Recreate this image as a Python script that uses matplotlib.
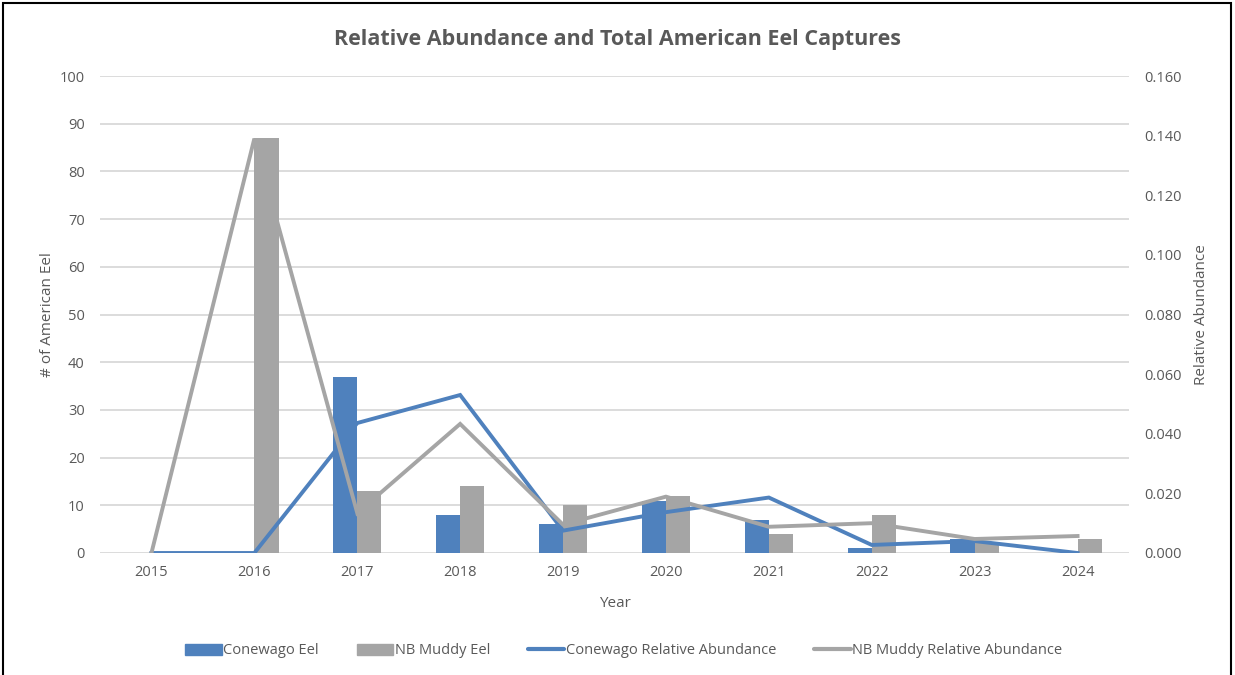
import numpy as np
import matplotlib
matplotlib.use("Agg")
import matplotlib.pyplot as plt
from matplotlib.patches import Patch, Rectangle
from matplotlib.lines import Line2D

plt.rcParams["font.family"] = ["Open Sans", "DejaVu Sans"]

years = ["2015", "2016", "2017", "2018", "2019", "2020", "2021", "2022", "2023", "2024"]
conewago_eel = [0, 0, 37, 8, 6, 11, 7, 1, 3, 0]
nb_muddy_eel = [0, 87, 13, 14, 10, 12, 4, 8, 2, 3]
conewago_ra = [0.0, 0.0, 0.0436, 0.053, 0.0075, 0.0137, 0.0186, 0.0027, 0.004, 0.0]
nb_muddy_ra = [0.0, 0.139, 0.0134, 0.0433, 0.0095, 0.0189, 0.0088, 0.0100, 0.0047, 0.0057]

BLUE = "#4F81BD"
GRAY = "#A5A5A5"
TXT = "#595959"
GRID = "#D9D9D9"

fig = plt.figure(figsize=(12.35, 6.75), dpi=100)
ax = fig.add_axes([100 / 1235, 122 / 675, 1029 / 1235, 477 / 675])
x = np.arange(len(years))
w = 0.235
ax.bar(x - w / 2, conewago_eel, w, color=BLUE, zorder=2)
ax.bar(x + w / 2, nb_muddy_eel, w, color=GRAY, zorder=2)
ax.set_xlim(-0.5, len(years) - 0.5)
ax.set_ylim(0, 100)
ax.set_yticks(range(0, 101, 10))
ax.set_xticks(x)
ax.set_xticklabels(years)
ax.yaxis.grid(True, color=GRID, lw=1.3, zorder=0)
ax.set_axisbelow(True)
for s in ax.spines.values():
    s.set_visible(False)
ax.tick_params(length=0, colors=TXT, labelsize=10.5)
ax.tick_params(axis="y", pad=11)
ax.tick_params(axis="x", pad=9)
ax.set_ylabel("# of American Eel", color=TXT, fontsize=11, labelpad=3)
ax.set_xlabel("Year", color=TXT, fontsize=11, labelpad=11)

ax2 = ax.twinx()
ax2.plot(x, conewago_ra, color=BLUE, lw=2.8, solid_joinstyle="miter")
ax2.plot(x, nb_muddy_ra, color=GRAY, lw=2.8, solid_joinstyle="miter")
ax2.set_ylim(0, 0.16)
ax2.set_yticks(np.arange(0, 0.161, 0.02))
ax2.set_yticklabels([f"{v:.3f}" for v in np.arange(0, 0.161, 0.02)])
for s in ax2.spines.values():
    s.set_visible(False)
ax2.tick_params(length=0, colors=TXT, labelsize=10.5, pad=11)
ax2.set_ylabel("Relative Abundance", color=TXT, fontsize=11, labelpad=9)

fig.text(0.5, 1 - 39 / 675, "Relative Abundance and Total American Eel Captures",
         ha="center", va="center", fontsize=15.5, fontweight="bold", color=TXT)

handles = [Patch(color=BLUE, label="Conewago Eel"),
           Patch(color=GRAY, label="NB Muddy Eel"),
           Line2D([], [], color=BLUE, lw=3, solid_capstyle="round", label="Conewago Relative Abundance"),
           Line2D([], [], color=GRAY, lw=3, solid_capstyle="round", label="NB Muddy Relative Abundance")]
fig.legend(handles=handles, ncol=4, loc="center", bbox_to_anchor=(0.505, 24 / 675),
           frameon=False, fontsize=10.5, labelcolor=TXT, handlelength=2.5,
           handleheight=0.7, handletextpad=0.1, columnspacing=2.6)

fig.add_artist(Rectangle((3 / 1235, -0.05), 1228 / 1235, 1.05 - 2.5 / 675,
                         transform=fig.transFigure, fill=False, ec="black", lw=1.5))

fig.savefig("out.png", dpi=100)
